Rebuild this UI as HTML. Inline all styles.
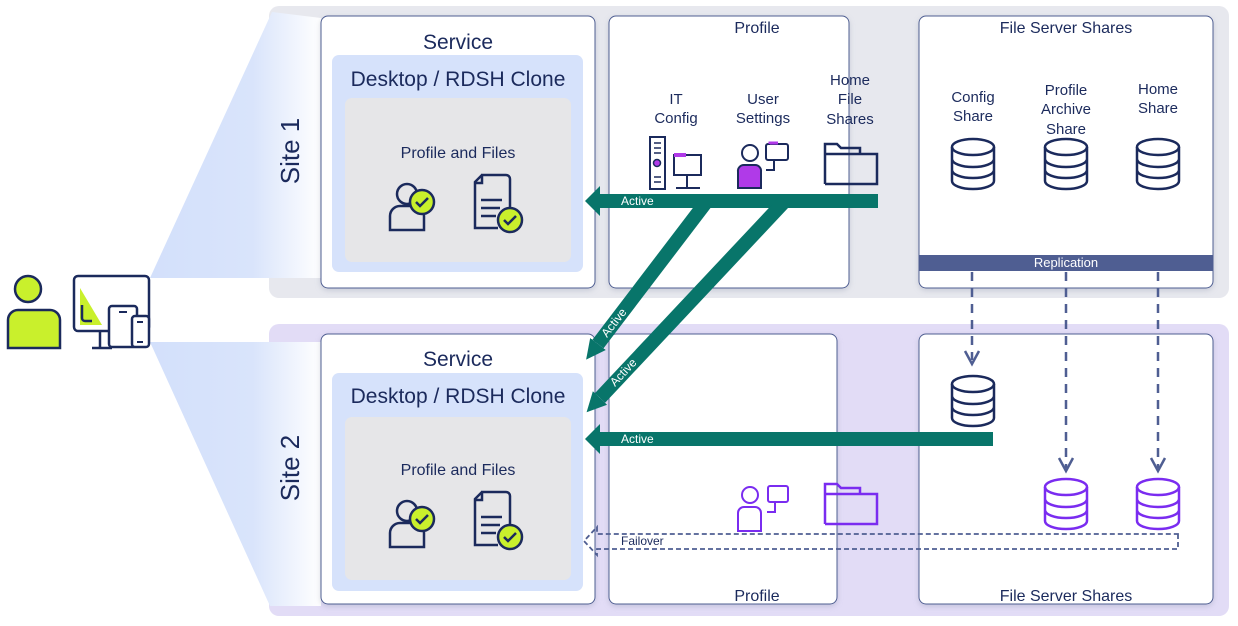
<!DOCTYPE html>
<html><head><meta charset="utf-8"><style>
body{margin:0;background:#fff}
svg{display:block}
text{font-family:"Liberation Sans",sans-serif;fill:#1b2a5c}
</style></head><body>
<svg width="1238" height="626" viewBox="0 0 1238 626" xmlns="http://www.w3.org/2000/svg">
<defs>
<linearGradient id="wg" x1="0" x2="1" y1="0" y2="0">
<stop offset="0" stop-color="#d3e0fb"/><stop offset="0.6" stop-color="#d9e4fb"/><stop offset="1" stop-color="#ffffff"/></linearGradient>
<filter id="sh" x="-5%" y="-5%" width="110%" height="115%"><feDropShadow dx="0" dy="2" stdDeviation="3" flood-color="#8890a8" flood-opacity="0.35"/></filter>
<marker id="ah" viewBox="0 0 10 10" refX="0" refY="5" markerWidth="1.4" markerHeight="2" orient="auto" markerUnits="strokeWidth"><path d="M0 0 L10 5 L0 10 Z" fill="#08756a"/></marker>
<g id="db"><ellipse cx="0" cy="-17" rx="21" ry="8" fill="none" stroke-width="2.5"/>
<path d="M-21 -17 V17 A21 8 0 0 0 21 17 V-17 M-21 -5 A21 8 0 0 0 21 -5 M-21 6 A21 8 0 0 0 21 6" fill="none" stroke-width="2.5"/></g>
<g id="pchk"><circle cx="0" cy="-12" r="10" fill="none" stroke="#1b2a5c" stroke-width="2.5"/>
<path d="M-17 24 V10 A10 10 0 0 1 -7 0 H7 A10 10 0 0 1 17 10 V24 Z" fill="none" stroke="#1b2a5c" stroke-width="2.5"/>
<circle cx="15" cy="-4" r="12" fill="#c9f02c" stroke="#1b2a5c" stroke-width="2.5"/>
<path d="M9 -4 l4 4 l8 -8" fill="none" stroke="#1b2a5c" stroke-width="2.5"/></g>
<g id="doc"><path d="M-15 -25 H10 A4 4 0 0 1 14 -21 V8 M2 28 H-21 V-18 L-14 -25" fill="none" stroke="#1b2a5c" stroke-width="2.5"/>
<path d="M-14 -25 V-17 H-21" fill="none" stroke="#1b2a5c" stroke-width="2.5"/>
<path d="M-15 0 H6 M-15 8 H4 M-15 16 H0" stroke="#1b2a5c" stroke-width="2.5"/>
<circle cx="14" cy="20" r="12" fill="#c9f02c" stroke="#1b2a5c" stroke-width="2.5"/>
<path d="M8 20 l4 4 l8 -8" fill="none" stroke="#1b2a5c" stroke-width="2.5"/></g>
</defs>

<rect x="269" y="6" width="960" height="292" rx="10" fill="#e7e8ee"/>
<rect x="269" y="324" width="960" height="292" rx="10" fill="#e2dcf6"/>

<polygon points="150,278 272,12 321,18 321,278" fill="url(#wg)"/>
<polygon points="150,342 321,342 321,606 270,606" fill="url(#wg)"/>

<text x="292" y="151" font-size="26" transform="rotate(-90 292 151)" text-anchor="middle" dominant-baseline="middle">Site 1</text>
<text x="292" y="468" font-size="26" transform="rotate(-90 292 468)" text-anchor="middle" dominant-baseline="middle">Site 2</text>

<g filter="url(#sh)">
<rect x="321" y="16" width="274" height="272" rx="7" fill="#fff" stroke="#4f5e92"/>
<rect x="609" y="16" width="240" height="272" rx="7" fill="#fff" stroke="#4f5e92"/>
<rect x="919" y="16" width="294" height="272" rx="7" fill="#fff" stroke="#4f5e92"/>
<rect x="321" y="334" width="274" height="270" rx="7" fill="#fff" stroke="#4f5e92"/>
<rect x="609" y="334" width="228" height="270" rx="7" fill="#fff" stroke="#4f5e92"/>
<rect x="919" y="334" width="294" height="270" rx="7" fill="#fff" stroke="#4f5e92"/>
</g>
<rect x="332" y="55" width="251" height="217" rx="7" fill="#d6e2fb"/>
<rect x="345" y="98" width="226" height="164" rx="7" fill="#e6e6e8"/>
<rect x="332" y="373" width="251" height="218" rx="7" fill="#d6e2fb"/>
<rect x="345" y="417" width="226" height="163" rx="7" fill="#e6e6e8"/>

<text x="458" y="49" font-size="21" text-anchor="middle">Service</text>
<text x="458" y="86" font-size="21" text-anchor="middle">Desktop / RDSH Clone</text>
<text x="458" y="158" font-size="16" text-anchor="middle">Profile and Files</text>
<use href="#pchk" x="407" y="206"/><use href="#doc" x="496" y="200"/>
<text x="458" y="366" font-size="21" text-anchor="middle">Service</text>
<text x="458" y="403" font-size="21" text-anchor="middle">Desktop / RDSH Clone</text>
<text x="458" y="475" font-size="16" text-anchor="middle">Profile and Files</text>
<use href="#pchk" x="407" y="523"/><use href="#doc" x="496" y="517"/>

<text x="757" y="33" font-size="16" text-anchor="middle">Profile</text>
<g font-size="15" text-anchor="middle">
<text x="676" y="104">IT</text><text x="676" y="123">Config</text>
<text x="763" y="104">User</text><text x="763" y="123">Settings</text>
<text x="850" y="85">Home</text><text x="850" y="104">File</text><text x="850" y="124">Shares</text>
</g>
<rect x="650" y="137" width="15" height="52" fill="none" stroke="#1b2a5c" stroke-width="2"/>
<path d="M654 143h7M654 148h7M654 153h7M654 177h7M654 182h7" stroke="#1b2a5c" stroke-width="1.5"/>
<circle cx="657" cy="163" r="3.5" fill="#b03ae8" stroke="#1b2a5c" stroke-width="1.5"/>
<rect x="674" y="155" width="27" height="20" fill="none" stroke="#1b2a5c" stroke-width="2"/>
<rect x="674" y="153" width="12" height="4" fill="#b03ae8"/>
<path d="M687 175 v13 M676 188 h24" stroke="#1b2a5c" stroke-width="2"/>
<circle cx="750" cy="153" r="8" fill="none" stroke="#1b2a5c" stroke-width="2"/>
<path d="M738 188 V172 A6 6 0 0 1 744 165 H755 A6 6 0 0 1 761 172 V188 Z" fill="#b03ae8" stroke="#1b2a5c" stroke-width="2"/>
<rect x="766" y="144" width="22" height="16" rx="2" fill="none" stroke="#1b2a5c" stroke-width="2"/>
<path d="M770 144 v-1 h8" stroke="#b03ae8" stroke-width="3"/>
<path d="M774 160 v10 h-8" fill="none" stroke="#1b2a5c" stroke-width="2"/>
<path d="M825 184 V144 h12 l4 4 h19 v6 h-35 M825 184 h52 v-30 h-17" fill="none" stroke="#1b2a5c" stroke-width="2.5"/>

<text x="1066" y="33" font-size="16" text-anchor="middle">File Server Shares</text>
<g font-size="15" text-anchor="middle">
<text x="973" y="102">Config</text><text x="973" y="121">Share</text>
<text x="1066" y="95">Profile</text><text x="1066" y="114">Archive</text><text x="1066" y="134">Share</text>
<text x="1158" y="94">Home</text><text x="1158" y="113">Share</text>
</g>
<use href="#db" x="973" y="164" stroke="#1b2a5c"/>
<use href="#db" x="1066" y="164" stroke="#1b2a5c"/>
<use href="#db" x="1158" y="164" stroke="#1b2a5c"/>
<rect x="919" y="255" width="294" height="16" fill="#4f5e92"/>
<text x="1066" y="267" font-size="13" text-anchor="middle" style="fill:#fff">Replication</text>

<g stroke="#4f5e92" stroke-width="2.5" stroke-dasharray="9 7" fill="none">
<path d="M972 272 V360"/><path d="M1066 272 V468"/><path d="M1158 272 V468"/>
</g>
<g stroke="#4f5e92" stroke-width="2.5" fill="none">
<path d="M965 351 l7 13 l7 -13"/><path d="M1059 458 l7 13 l7 -13"/><path d="M1151 458 l7 13 l7 -13"/>
</g>

<use href="#db" x="973" y="401" stroke="#1b2a5c"/>
<use href="#db" x="1066" y="504" stroke="#7a2cf0"/>
<use href="#db" x="1158" y="504" stroke="#7a2cf0"/>
<text x="757" y="601" font-size="16" text-anchor="middle">Profile</text>
<text x="1066" y="601" font-size="16" text-anchor="middle">File Server Shares</text>
<circle cx="750" cy="495" r="8" fill="none" stroke="#7a2cf0" stroke-width="2"/>
<path d="M738 531 V513 A6 6 0 0 1 744 507 H755 A6 6 0 0 1 761 513 V531 Z" fill="none" stroke="#7a2cf0" stroke-width="2"/>
<rect x="768" y="486" width="20" height="16" rx="2" fill="none" stroke="#7a2cf0" stroke-width="2"/>
<path d="M775 502 v10 h-8" fill="none" stroke="#7a2cf0" stroke-width="2"/>
<path d="M825 524 V484 h12 l4 4 h19 v6 h-35 M825 524 h52 v-30 h-17" fill="none" stroke="#7a2cf0" stroke-width="2.5"/>

<g stroke="#4f5e92" stroke-width="1.8" stroke-dasharray="5 3" fill="none">
<path d="M1178 534 V549 H597 V555 L584 541 L597 527 V534 Z"/>
</g>
<text x="621" y="545" font-size="12">Failover</text>

<g fill="#08756a">
<path d="M878 194 V208 H600 V216 L585 201 L600 186 V194 Z"/>
<path d="M993 432 V446 H600 V454 L585 439 L600 424 V432 Z"/>
</g>
<g stroke="#08756a" stroke-width="14" fill="none">
<line x1="707" y1="201" x2="598" y2="344" marker-end="url(#ah)"/>
<line x1="785" y1="201" x2="600" y2="398" marker-end="url(#ah)"/>
</g>
<g font-size="12">
<text x="621" y="205" style="fill:#fff">Active</text>
<text x="621" y="443" style="fill:#fff">Active</text>
<text x="607" y="338" transform="rotate(-52 607 338)" style="fill:#fff">Active</text>
<text x="615" y="387" transform="rotate(-47 615 387)" style="fill:#fff">Active</text>
</g>

<circle cx="28" cy="289" r="13" fill="#c9f02c" stroke="#1b2a5c" stroke-width="2.5"/>
<path d="M8 348 V320 A10 10 0 0 1 18 310 H50 A10 10 0 0 1 60 320 V348 Z" fill="#c9f02c" stroke="#1b2a5c" stroke-width="2.5"/>
<rect x="74" y="276" width="75" height="55" rx="4" fill="#fff" stroke="#1b2a5c" stroke-width="2.5"/>
<polygon points="80,288 102,325 80,325" fill="#c9f02c"/>
<path d="M82 305 V318 A3 3 0 0 0 85 321 H92" fill="none" stroke="#1b2a5c" stroke-width="2.5"/>
<path d="M100 331 V347 M92 348 H112" stroke="#1b2a5c" stroke-width="2.5"/>
<rect x="109" y="306" width="28" height="41" rx="3" fill="#fff" stroke="#1b2a5c" stroke-width="2.5"/>
<rect x="132" y="316" width="17" height="31" rx="3" fill="#fff" stroke="#1b2a5c" stroke-width="2.5"/>
<path d="M119 312h8M137 322h6M137 342h6" stroke="#1b2a5c" stroke-width="2"/>
</svg>
</body></html>
